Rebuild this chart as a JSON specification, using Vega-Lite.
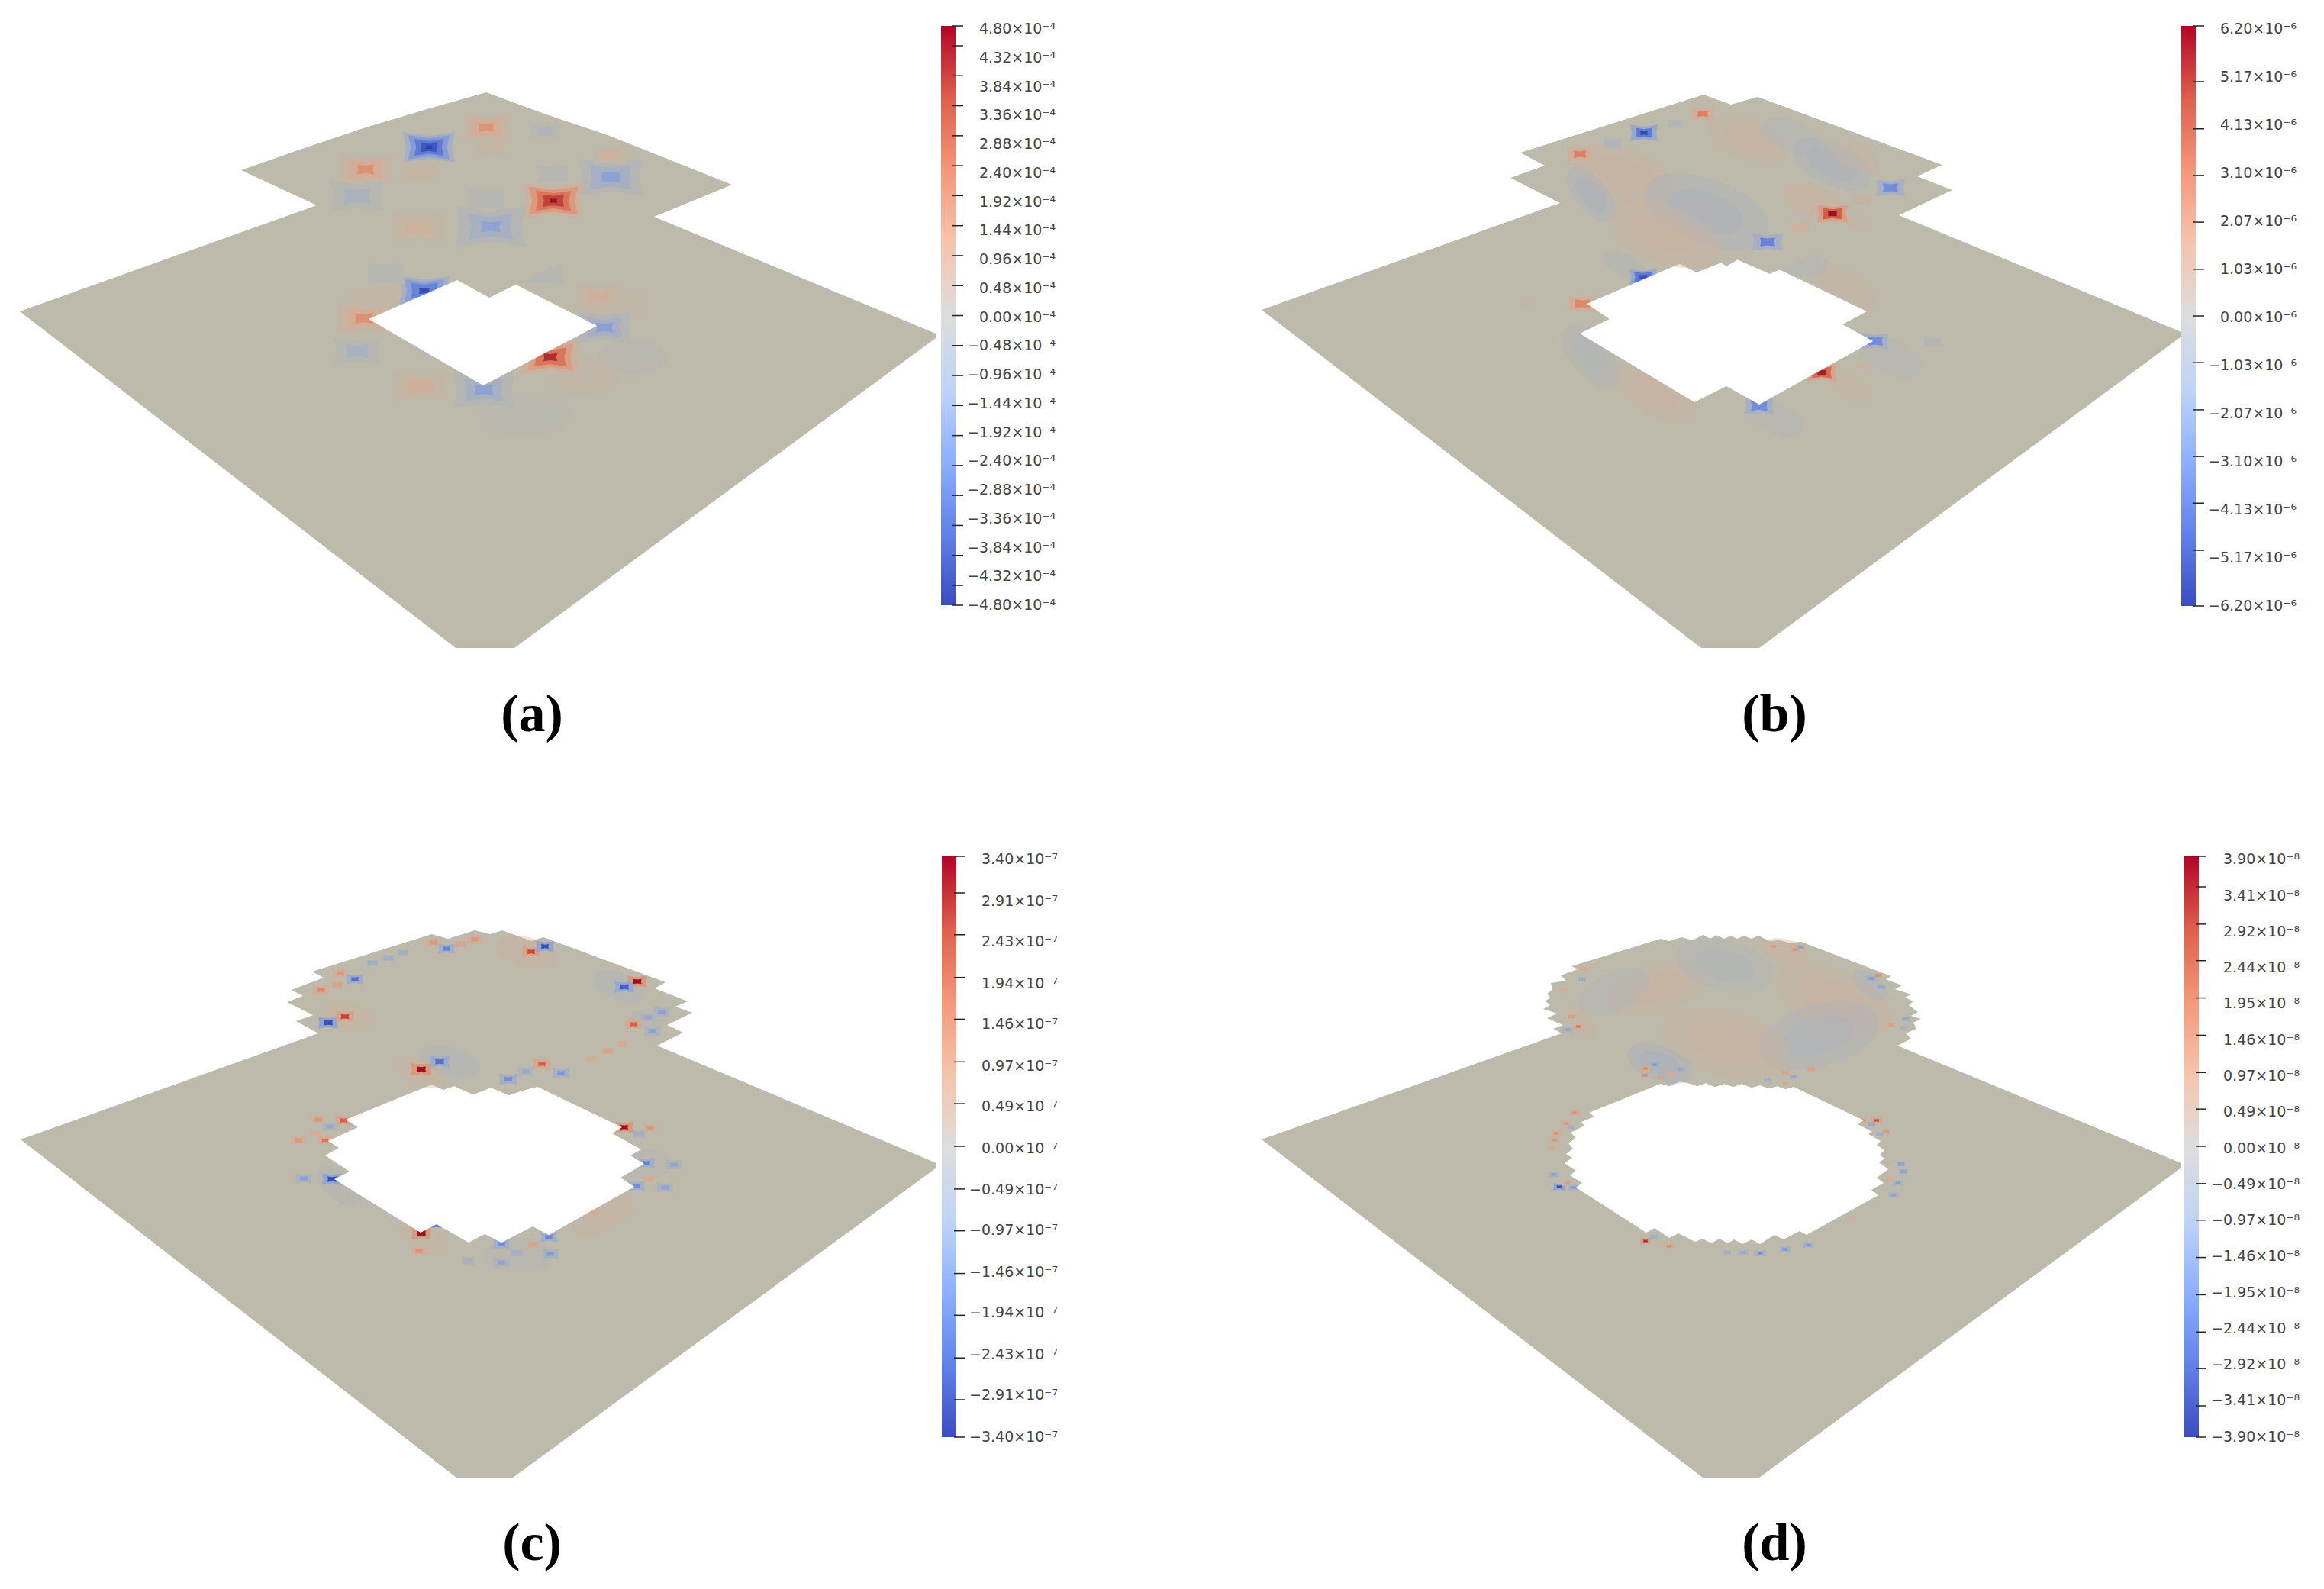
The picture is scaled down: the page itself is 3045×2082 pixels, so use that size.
{
"$schema":"https://vega.github.io/schema/vega-lite/v6.json",
"width":3045,"height":2082,
"autosize":{"type":"fit","contains":"padding"},
"padding":0,
"background":"#ffffff",
"config":{"view":{"stroke":null}},
"datasets":{
"platesLower":[
{"type":"Feature","properties":{"panel":"a","kind":"plate"},"geometry":{"type":"Polygon","coordinates":[[[26,408],[415,269],[640,250],[857,284],[1226,437],[1226,443],[674,849],[597,849],[26,408]]]}},
{"type":"Feature","properties":{"panel":"b","kind":"plate"},"geometry":{"type":"Polygon","coordinates":[[[1653,406],[2044,266],[2270,250],[2488,282],[2858,435],[2858,441],[2305,849],[2229,849],[1653,406]]]}},
{"type":"Feature","properties":{"panel":"c","kind":"plate"},"geometry":{"type":"Polygon","coordinates":[[[27,1493],[417,1354],[640,1350],[861,1370],[1227,1524],[1227,1530],[672,1936],[598,1936],[27,1493]]]}},
{"type":"Feature","properties":{"panel":"d","kind":"plate"},"geometry":{"type":"Polygon","coordinates":[[[1653,1493],[2046,1354],[2270,1350],[2486,1370],[2858,1524],[2858,1530],[2305,1936],[2231,1936],[1653,1493]]]}}
],
"platesUpper":[
{"type":"Feature","properties":{"panel":"a","kind":"hole"},"geometry":{"type":"Polygon","coordinates":[[[483,418],[599,367],[641,340],[676,373],[782,427],[633,505],[483,418]]]}},
{"type":"Feature","properties":{"panel":"a","kind":"plate"},"geometry":{"type":"Polygon","coordinates":[[[316,223],[390,197],[473,169],[556,144],[637,121],[713,149],[796,177],[879,210],[959,242],[857,284],[641,390],[599,367],[415,269],[316,223]]]}},
{"type":"Feature","properties":{"panel":"b","kind":"hole"},"geometry":{"type":"Polygon","coordinates":[[[2079,398],[2200,346],[2240,333],[2262,349],[2289,333],[2333,354],[2446,408],[2414,425],[2454,447],[2305,530],[2262,506],[2220,527],[2070,437],[2109,418],[2079,398]]]}},
{"type":"Feature","properties":{"panel":"b","kind":"plate"},"geometry":{"type":"Polygon","coordinates":[[[2232,124],[2268,137],[2303,127],[2545,216],[2512,231],[2558,249],[2488,282],[2319,359],[2271,338],[2223,357],[2044,266],[1979,233],[2024,217],[1992,200],[2232,124]]]}},
{"type":"Feature","properties":{"panel":"c","kind":"hole"},"geometry":{"type":"Polygon","coordinates":[[[566,1421],[581,1428],[595,1423],[620,1434],[643,1425],[667,1435],[687,1428],[704,1424],[815,1477],[802,1485],[840,1506],[826,1514],[844,1525],[813,1543],[831,1555],[719,1618],[698,1607],[657,1628],[635,1617],[614,1628],[572,1604],[551,1615],[438,1545],[458,1535],[426,1514],[444,1504],[430,1495],[469,1477],[453,1467],[566,1421]]]}},
{"type":"Feature","properties":{"panel":"c","kind":"plate"},"geometry":{"type":"Polygon","coordinates":[[[409,1273],[566,1224],[587,1230],[622,1219],[642,1224],[658,1219],[696,1233],[712,1228],[872,1287],[858,1295],[901,1312],[885,1319],[907,1327],[874,1343],[895,1353],[861,1370],[704,1424],[687,1428],[667,1435],[643,1425],[620,1434],[595,1423],[581,1428],[566,1421],[417,1354],[388,1338],[410,1330],[376,1313],[397,1305],[382,1297],[424,1281],[409,1273]]]}},
{"type":"Feature","properties":{"panel":"d","kind":"hole"},"geometry":{"type":"Polygon","coordinates":[[[2176,1420],[2187,1423],[2201,1417],[2212,1419],[2224,1423],[2235,1419],[2247,1424],[2259,1420],[2271,1424],[2282,1420],[2295,1425],[2306,1422],[2318,1426],[2329,1423],[2339,1427],[2350,1424],[2442,1468],[2434,1473],[2453,1483],[2448,1486],[2464,1495],[2459,1500],[2469,1507],[2463,1513],[2469,1518],[2462,1523],[2474,1532],[2459,1543],[2468,1550],[2452,1559],[2461,1566],[2367,1618],[2358,1613],[2337,1624],[2325,1618],[2306,1630],[2295,1624],[2283,1630],[2272,1624],[2264,1629],[2253,1623],[2242,1629],[2231,1623],[2221,1627],[2199,1616],[2187,1622],[2168,1609],[2157,1615],[2065,1556],[2073,1550],[2057,1540],[2065,1534],[2050,1524],[2060,1517],[2052,1512],[2061,1505],[2055,1498],[2065,1491],[2058,1484],[2076,1475],[2072,1470],[2089,1463],[2082,1458],[2176,1420]]]}},
{"type":"Feature","properties":{"panel":"d","kind":"plate"},"geometry":{"type":"Polygon","coordinates":[[[2059,1266],[2176,1230],[2187,1233],[2203,1228],[2218,1232],[2231,1225],[2241,1230],[2249,1225],[2259,1230],[2268,1226],[2276,1230],[2285,1226],[2295,1230],[2304,1226],[2319,1233],[2331,1232],[2344,1235],[2360,1234],[2478,1279],[2471,1283],[2492,1291],[2483,1296],[2504,1303],[2496,1307],[2507,1312],[2501,1317],[2513,1326],[2504,1331],[2517,1335],[2507,1340],[2511,1348],[2497,1354],[2504,1361],[2486,1370],[2350,1424],[2339,1427],[2329,1423],[2318,1426],[2306,1422],[2295,1425],[2282,1420],[2271,1424],[2259,1420],[2247,1424],[2235,1419],[2224,1423],[2212,1419],[2201,1417],[2187,1423],[2176,1420],[2046,1354],[2035,1348],[2048,1343],[2027,1334],[2040,1328],[2022,1322],[2031,1317],[2025,1312],[2031,1307],[2027,1302],[2034,1297],[2032,1288],[2052,1285],[2045,1278],[2067,1270],[2059,1266]]]}}
],
"softLower":[
{"x":2084,"y":467,"v":-0.14,"w":100,"tilt":50},{"x":2084,"y":467,"v":-0.14,"w":60,"tilt":50},
{"x":2169,"y":513,"v":0.14,"w":120,"tilt":30},{"x":2169,"y":513,"v":0.14,"w":70,"tilt":30},
{"x":2419,"y":377,"v":0.12,"w":90,"tilt":35},{"x":2419,"y":503,"v":0.14,"w":70,"tilt":35},
{"x":2129,"y":348,"v":-0.14,"w":60,"tilt":25},{"x":2477,"y":467,"v":-0.12,"w":90,"tilt":25},
{"x":2365,"y":348,"v":-0.12,"w":60,"tilt":0},{"x":2325,"y":547,"v":-0.12,"w":80,"tilt":25},
{"x":500,"y":395,"v":0.1,"w":90,"tilt":0},{"x":829,"y":468,"v":-0.08,"w":90,"tilt":0},
{"x":763,"y":493,"v":0.08,"w":100,"tilt":0},{"x":688,"y":544,"v":-0.06,"w":120,"tilt":0},
{"x":805,"y":400,"v":0.08,"w":90,"tilt":0},
{"x":445,"y":1555,"v":-0.14,"w":70,"tilt":40},{"x":555,"y":1620,"v":0.14,"w":70,"tilt":30},
{"x":840,"y":1525,"v":-0.1,"w":80,"tilt":0},{"x":790,"y":1590,"v":0.12,"w":90,"tilt":-30},
{"x":680,"y":1645,"v":-0.08,"w":90,"tilt":0}
],
"softUpper":[
{"x":2290,"y":182,"v":0.14,"w":110,"tilt":22},{"x":2290,"y":182,"v":0.14,"w":70,"tilt":22},
{"x":2345,"y":178,"v":-0.12,"w":80,"tilt":20},
{"x":2129,"y":230,"v":0.15,"w":140,"tilt":22},{"x":2129,"y":230,"v":0.15,"w":85,"tilt":22},
{"x":2085,"y":255,"v":-0.16,"w":85,"tilt":50},{"x":2085,"y":255,"v":-0.16,"w":55,"tilt":50},
{"x":2236,"y":277,"v":-0.16,"w":170,"tilt":20},{"x":2236,"y":277,"v":-0.16,"w":100,"tilt":20},
{"x":2401,"y":215,"v":-0.16,"w":110,"tilt":25},{"x":2401,"y":215,"v":-0.16,"w":70,"tilt":25},
{"x":2430,"y":205,"v":0.12,"w":70,"tilt":25},
{"x":2182,"y":307,"v":0.15,"w":150,"tilt":20},{"x":2182,"y":307,"v":0.15,"w":90,"tilt":20},
{"x":2374,"y":263,"v":0.2,"w":80,"tilt":20},{"x":2430,"y":288,"v":0.14,"w":40,"tilt":30},
{"x":458,"y":1332,"v":0.15,"w":70,"tilt":20},
{"x":812,"y":1292,"v":-0.18,"w":70,"tilt":25},{"x":690,"y":1248,"v":0.16,"w":80,"tilt":15},
{"x":590,"y":1392,"v":-0.18,"w":80,"tilt":15},{"x":552,"y":1405,"v":0.15,"w":70,"tilt":20},
{"x":850,"y":1335,"v":-0.14,"w":50,"tilt":0},
{"x":2170,"y":1295,"v":0.12,"w":130,"tilt":-15},{"x":2170,"y":1295,"v":0.12,"w":80,"tilt":-15},
{"x":2260,"y":1265,"v":-0.12,"w":130,"tilt":15},{"x":2260,"y":1265,"v":-0.12,"w":80,"tilt":15},
{"x":2402,"y":1310,"v":0.14,"w":160,"tilt":25},{"x":2402,"y":1310,"v":0.14,"w":95,"tilt":25},
{"x":2383,"y":1357,"v":-0.15,"w":160,"tilt":-15},{"x":2383,"y":1357,"v":-0.15,"w":95,"tilt":-15},
{"x":2260,"y":1367,"v":0.13,"w":170,"tilt":15},{"x":2260,"y":1367,"v":0.13,"w":100,"tilt":15},
{"x":2115,"y":1300,"v":-0.13,"w":100,"tilt":-25},{"x":2175,"y":1393,"v":-0.2,"w":90,"tilt":20},
{"x":2175,"y":1393,"v":-0.2,"w":55,"tilt":20},{"x":2072,"y":1338,"v":0.2,"w":50,"tilt":50},
{"x":2450,"y":1290,"v":-0.18,"w":55,"tilt":40},{"x":2340,"y":1246,"v":0.18,"w":60,"tilt":15}
],
"spotsLower":[
{"x":556,"y":381,"v":-0.2,"w":66},{"x":556,"y":381,"v":-0.4,"w":52},{"x":556,"y":381,"v":-0.6,"w":36},{"x":556,"y":381,"v":-0.9,"w":14},
{"x":477,"y":417,"v":0.08,"w":72},{"x":477,"y":417,"v":0.22,"w":48},{"x":477,"y":417,"v":0.45,"w":24},
{"x":468,"y":460,"v":-0.05,"w":62},{"x":468,"y":460,"v":-0.17,"w":30},
{"x":550,"y":506,"v":0.06,"w":70},{"x":550,"y":506,"v":0.17,"w":38},
{"x":634,"y":511,"v":-0.07,"w":80},{"x":634,"y":511,"v":-0.2,"w":50},{"x":634,"y":511,"v":-0.38,"w":24},
{"x":721,"y":468,"v":0.15,"w":78},{"x":721,"y":468,"v":0.35,"w":60},{"x":721,"y":468,"v":0.6,"w":42},{"x":721,"y":468,"v":0.9,"w":18},
{"x":792,"y":429,"v":-0.07,"w":72},{"x":792,"y":429,"v":-0.2,"w":46},{"x":792,"y":429,"v":-0.4,"w":22},
{"x":784,"y":389,"v":0.06,"w":60},{"x":784,"y":389,"v":0.17,"w":30},
{"x":713,"y":358,"v":-0.06,"w":50},{"x":506,"y":358,"v":-0.05,"w":50},
{"x":2153,"y":363,"v":-0.3,"w":36},{"x":2153,"y":363,"v":-0.65,"w":24},{"x":2153,"y":363,"v":-0.9,"w":10},
{"x":2073,"y":398,"v":0.2,"w":36},{"x":2073,"y":398,"v":0.5,"w":20},
{"x":2387,"y":488,"v":0.3,"w":40},{"x":2387,"y":488,"v":0.65,"w":26},{"x":2387,"y":488,"v":0.95,"w":12},
{"x":2457,"y":447,"v":-0.2,"w":36},{"x":2457,"y":447,"v":-0.55,"w":20},
{"x":2305,"y":532,"v":-0.2,"w":38},{"x":2305,"y":532,"v":-0.55,"w":22},
{"x":2003,"y":396,"v":0.08,"w":20},{"x":2532,"y":448,"v":-0.08,"w":22},{"x":2441,"y":480,"v":0.08,"w":20},
{"x":450,"y":1468,"v":0.3,"w":22},{"x":450,"y":1468,"v":0.7,"w":10},
{"x":417,"y":1467,"v":0.16,"w":20},{"x":417,"y":1467,"v":0.4,"w":10},
{"x":432,"y":1476,"v":-0.12,"w":20},{"x":432,"y":1476,"v":-0.3,"w":9},
{"x":413,"y":1485,"v":0.2,"w":16},{"x":391,"y":1494,"v":0.16,"w":20},{"x":391,"y":1494,"v":0.4,"w":10},
{"x":426,"y":1494,"v":0.25,"w":20},{"x":426,"y":1494,"v":0.6,"w":9},
{"x":435,"y":1545,"v":-0.35,"w":26},{"x":435,"y":1545,"v":-0.9,"w":12},
{"x":398,"y":1544,"v":-0.16,"w":22},{"x":398,"y":1544,"v":-0.4,"w":10},
{"x":818,"y":1477,"v":0.4,"w":24},{"x":818,"y":1477,"v":1,"w":10},
{"x":852,"y":1478,"v":0.16,"w":20},{"x":852,"y":1478,"v":0.4,"w":9},
{"x":837,"y":1486,"v":-0.2,"w":16},
{"x":847,"y":1524,"v":-0.25,"w":22},{"x":847,"y":1524,"v":-0.6,"w":10},
{"x":883,"y":1526,"v":-0.14,"w":22},{"x":883,"y":1526,"v":-0.35,"w":10},
{"x":834,"y":1554,"v":-0.22,"w":22},{"x":834,"y":1554,"v":-0.55,"w":10},
{"x":871,"y":1556,"v":-0.16,"w":22},{"x":871,"y":1556,"v":-0.4,"w":10},
{"x":851,"y":1545,"v":0.25,"w":14},
{"x":552,"y":1616,"v":0.4,"w":26},{"x":552,"y":1616,"v":1,"w":12},
{"x":549,"y":1639,"v":0.18,"w":22},{"x":549,"y":1639,"v":0.45,"w":10},
{"x":572,"y":1605,"v":-0.6,"w":12},
{"x":657,"y":1630,"v":-0.22,"w":22},{"x":657,"y":1630,"v":-0.55,"w":10},
{"x":719,"y":1621,"v":-0.25,"w":22},{"x":719,"y":1621,"v":-0.6,"w":10},
{"x":699,"y":1631,"v":0.3,"w":14},
{"x":721,"y":1643,"v":-0.18,"w":22},{"x":721,"y":1643,"v":-0.45,"w":10},
{"x":657,"y":1654,"v":-0.14,"w":22},{"x":657,"y":1654,"v":-0.35,"w":10},
{"x":677,"y":1642,"v":-0.2,"w":16},{"x":614,"y":1652,"v":-0.15,"w":18},
{"x":779,"y":1587,"v":0.25,"w":14},{"x":800,"y":1597,"v":0.15,"w":16},{"x":819,"y":1587,"v":0.12,"w":16},
{"x":2156,"y":1626,"v":0.4,"w":14},{"x":2156,"y":1626,"v":0.9,"w":6},
{"x":2187,"y":1633,"v":0.22,"w":14},{"x":2187,"y":1633,"v":0.55,"w":6},
{"x":2167,"y":1621,"v":-0.25,"w":12},
{"x":2339,"y":1637,"v":-0.22,"w":14},{"x":2339,"y":1637,"v":-0.55,"w":6},
{"x":2306,"y":1642,"v":-0.22,"w":14},{"x":2306,"y":1642,"v":-0.55,"w":6},
{"x":2284,"y":1641,"v":-0.16,"w":14},{"x":2284,"y":1641,"v":-0.4,"w":6},
{"x":2263,"y":1641,"v":-0.25,"w":10},
{"x":2369,"y":1631,"v":-0.2,"w":14},{"x":2369,"y":1631,"v":-0.5,"w":6},
{"x":2459,"y":1468,"v":0.32,"w":14},{"x":2459,"y":1468,"v":0.8,"w":6},
{"x":2442,"y":1468,"v":0.2,"w":12},{"x":2442,"y":1468,"v":0.5,"w":5},
{"x":2452,"y":1473,"v":-0.3,"w":10},{"x":2471,"y":1483,"v":0.4,"w":9},{"x":2463,"y":1486,"v":-0.2,"w":10},
{"x":2491,"y":1525,"v":-0.35,"w":10},{"x":2494,"y":1535,"v":-0.35,"w":10},
{"x":2487,"y":1550,"v":-0.18,"w":14},{"x":2487,"y":1550,"v":-0.45,"w":6},
{"x":2481,"y":1566,"v":-0.16,"w":14},{"x":2481,"y":1566,"v":-0.4,"w":6},
{"x":2476,"y":1545,"v":0.25,"w":10},
{"x":2063,"y":1458,"v":0.18,"w":14},{"x":2063,"y":1458,"v":0.45,"w":6},
{"x":2052,"y":1472,"v":0.18,"w":14},{"x":2052,"y":1472,"v":0.45,"w":6},
{"x":2059,"y":1477,"v":-0.2,"w":10},
{"x":2039,"y":1485,"v":0.2,"w":14},{"x":2039,"y":1485,"v":0.5,"w":6},
{"x":2037,"y":1494,"v":0.18,"w":14},{"x":2037,"y":1494,"v":0.45,"w":6},
{"x":2034,"y":1504,"v":0.25,"w":10},
{"x":2036,"y":1539,"v":-0.18,"w":14},{"x":2036,"y":1539,"v":-0.45,"w":6},
{"x":2054,"y":1550,"v":0.14,"w":14},{"x":2054,"y":1550,"v":0.35,"w":6},
{"x":2043,"y":1555,"v":-0.36,"w":16},{"x":2043,"y":1555,"v":-0.9,"w":7},
{"x":2062,"y":1556,"v":-0.2,"w":14},{"x":2062,"y":1556,"v":-0.5,"w":6},
{"x":2427,"y":1597,"v":0.12,"w":14}
],
"spotsUpper":[
{"x":562,"y":193,"v":-0.2,"w":68},{"x":562,"y":193,"v":-0.45,"w":54},{"x":562,"y":193,"v":-0.65,"w":38},{"x":562,"y":193,"v":-0.85,"w":22},{"x":562,"y":193,"v":-1,"w":8},
{"x":725,"y":263,"v":0.15,"w":78},{"x":725,"y":263,"v":0.38,"w":64},{"x":725,"y":263,"v":0.6,"w":46},{"x":725,"y":263,"v":0.82,"w":28},{"x":725,"y":263,"v":1,"w":10},
{"x":637,"y":167,"v":0.08,"w":64},{"x":637,"y":167,"v":0.22,"w":42},{"x":637,"y":167,"v":0.42,"w":20},
{"x":479,"y":222,"v":0.08,"w":70},{"x":479,"y":222,"v":0.22,"w":46},{"x":479,"y":222,"v":0.45,"w":22},
{"x":800,"y":232,"v":-0.07,"w":84},{"x":800,"y":232,"v":-0.2,"w":54},{"x":800,"y":232,"v":-0.38,"w":26},
{"x":800,"y":203,"v":0.05,"w":42},{"x":800,"y":203,"v":0.15,"w":24},
{"x":713,"y":172,"v":-0.04,"w":36},{"x":713,"y":172,"v":-0.12,"w":20},
{"x":468,"y":257,"v":-0.05,"w":70},{"x":468,"y":257,"v":-0.15,"w":36},
{"x":643,"y":297,"v":-0.07,"w":92},{"x":643,"y":297,"v":-0.2,"w":58},{"x":643,"y":297,"v":-0.36,"w":26},
{"x":547,"y":298,"v":0.05,"w":72},{"x":547,"y":298,"v":0.15,"w":38},
{"x":643,"y":193,"v":0.06,"w":40},{"x":725,"y":228,"v":-0.06,"w":40},{"x":637,"y":261,"v":-0.06,"w":50},{"x":551,"y":225,"v":0.06,"w":50},
{"x":2231,"y":149,"v":0.2,"w":30},{"x":2231,"y":149,"v":0.55,"w":14},
{"x":2154,"y":174,"v":-0.3,"w":36},{"x":2154,"y":174,"v":-0.65,"w":22},{"x":2154,"y":174,"v":-0.95,"w":10},
{"x":2070,"y":202,"v":0.2,"w":34},{"x":2070,"y":202,"v":0.55,"w":16},
{"x":2401,"y":280,"v":0.35,"w":40},{"x":2401,"y":280,"v":0.7,"w":26},{"x":2401,"y":280,"v":1,"w":12},
{"x":2477,"y":246,"v":-0.2,"w":38},{"x":2477,"y":246,"v":-0.55,"w":20},
{"x":2316,"y":317,"v":-0.2,"w":40},{"x":2316,"y":317,"v":-0.6,"w":20},
{"x":2358,"y":298,"v":0.14,"w":24},{"x":2440,"y":262,"v":0.1,"w":22},{"x":2195,"y":162,"v":-0.1,"w":20},{"x":2113,"y":188,"v":-0.1,"w":24},
{"x":568,"y":1235,"v":0.16,"w":22},{"x":568,"y":1235,"v":0.4,"w":10},
{"x":622,"y":1231,"v":0.16,"w":22},{"x":622,"y":1231,"v":0.4,"w":10},
{"x":603,"y":1237,"v":0.3,"w":14},
{"x":585,"y":1243,"v":-0.25,"w":22},{"x":585,"y":1243,"v":-0.6,"w":10},
{"x":696,"y":1247,"v":0.32,"w":24},{"x":696,"y":1247,"v":0.8,"w":10},
{"x":714,"y":1240,"v":-0.36,"w":24},{"x":714,"y":1240,"v":-0.9,"w":10},
{"x":446,"y":1275,"v":0.16,"w":22},{"x":446,"y":1275,"v":0.4,"w":10},
{"x":442,"y":1290,"v":0.3,"w":14},
{"x":465,"y":1283,"v":-0.28,"w":22},{"x":465,"y":1283,"v":-0.7,"w":10},
{"x":421,"y":1297,"v":0.2,"w":22},{"x":421,"y":1297,"v":0.5,"w":10},
{"x":452,"y":1332,"v":0.32,"w":24},{"x":452,"y":1332,"v":0.8,"w":11},
{"x":430,"y":1340,"v":-0.36,"w":26},{"x":430,"y":1340,"v":-0.9,"w":12},
{"x":835,"y":1286,"v":0.4,"w":26},{"x":835,"y":1286,"v":1,"w":11},
{"x":818,"y":1293,"v":-0.32,"w":26},{"x":818,"y":1293,"v":-0.8,"w":12},
{"x":867,"y":1326,"v":-0.16,"w":22},{"x":867,"y":1326,"v":-0.4,"w":10},
{"x":849,"y":1333,"v":-0.12,"w":22},{"x":849,"y":1333,"v":-0.3,"w":10},
{"x":830,"y":1342,"v":0.28,"w":22},{"x":830,"y":1342,"v":0.7,"w":10},
{"x":855,"y":1351,"v":-0.16,"w":22},{"x":855,"y":1351,"v":-0.4,"w":10},
{"x":816,"y":1368,"v":0.25,"w":14},{"x":796,"y":1377,"v":0.3,"w":14},{"x":775,"y":1387,"v":0.2,"w":14},
{"x":710,"y":1394,"v":0.28,"w":24},{"x":710,"y":1394,"v":0.7,"w":10},
{"x":735,"y":1406,"v":-0.2,"w":22},{"x":735,"y":1406,"v":-0.5,"w":10},
{"x":689,"y":1404,"v":-0.12,"w":22},{"x":689,"y":1404,"v":-0.3,"w":10},
{"x":666,"y":1414,"v":-0.22,"w":24},{"x":666,"y":1414,"v":-0.55,"w":11},
{"x":576,"y":1391,"v":-0.28,"w":26},{"x":576,"y":1391,"v":-0.7,"w":12},
{"x":552,"y":1401,"v":0.4,"w":28},{"x":552,"y":1401,"v":1,"w":12},
{"x":509,"y":1255,"v":-0.25,"w":14},{"x":488,"y":1262,"v":-0.25,"w":14},{"x":528,"y":1248,"v":-0.2,"w":14},
{"x":2068,"y":1345,"v":0.24,"w":14},{"x":2068,"y":1345,"v":0.6,"w":6},
{"x":2059,"y":1332,"v":0.35,"w":9},{"x":2054,"y":1349,"v":-0.16,"w":14},{"x":2054,"y":1349,"v":-0.4,"w":6},
{"x":2452,"y":1282,"v":-0.2,"w":14},{"x":2452,"y":1282,"v":-0.5,"w":6},
{"x":2461,"y":1278,"v":0.45,"w":8},{"x":2465,"y":1293,"v":-0.3,"w":10},
{"x":2352,"y":1244,"v":0.2,"w":14},{"x":2352,"y":1244,"v":0.5,"w":6},
{"x":2323,"y":1240,"v":0.35,"w":8},{"x":2360,"y":1241,"v":-0.4,"w":8},
{"x":2168,"y":1395,"v":-0.2,"w":14},{"x":2168,"y":1395,"v":-0.5,"w":6},
{"x":2202,"y":1401,"v":-0.14,"w":14},{"x":2202,"y":1401,"v":-0.35,"w":6},
{"x":2156,"y":1400,"v":0.22,"w":14},{"x":2156,"y":1400,"v":0.55,"w":6},
{"x":2155,"y":1409,"v":0.5,"w":7},{"x":2339,"y":1405,"v":0.3,"w":10},{"x":2373,"y":1401,"v":0.3,"w":10},
{"x":2075,"y":1269,"v":0.25,"w":10},{"x":2073,"y":1283,"v":-0.3,"w":10},{"x":2048,"y":1298,"v":0.2,"w":10},
{"x":2497,"y":1335,"v":-0.3,"w":10},{"x":2478,"y":1343,"v":0.3,"w":10},{"x":2494,"y":1347,"v":-0.2,"w":10},
{"x":2316,"y":1415,"v":-0.25,"w":10},{"x":2350,"y":1411,"v":-0.3,"w":9},{"x":2339,"y":1420,"v":0.3,"w":7},
{"x":2176,"y":1412,"v":0.35,"w":8},{"x":2189,"y":1407,"v":0.25,"w":9}
],
"bars":[
{"panel":"a","hi":4.8,"lo":-4.8},{"panel":"b","hi":6.2,"lo":-6.2},{"panel":"c","hi":3.4,"lo":-3.4},{"panel":"d","hi":3.9,"lo":-3.9}
],
"ticks":[
{"panel":"a","value":4.8,"label":"4.80×10⁻⁴"},{"panel":"a","value":4.32,"label":"4.32×10⁻⁴"},{"panel":"a","value":3.84,"label":"3.84×10⁻⁴"},{"panel":"a","value":3.36,"label":"3.36×10⁻⁴"},{"panel":"a","value":2.88,"label":"2.88×10⁻⁴"},{"panel":"a","value":2.4,"label":"2.40×10⁻⁴"},{"panel":"a","value":1.92,"label":"1.92×10⁻⁴"},{"panel":"a","value":1.44,"label":"1.44×10⁻⁴"},{"panel":"a","value":0.96,"label":"0.96×10⁻⁴"},{"panel":"a","value":0.48,"label":"0.48×10⁻⁴"},{"panel":"a","value":0,"label":"0.00×10⁻⁴"},{"panel":"a","value":-0.48,"label":"−0.48×10⁻⁴"},{"panel":"a","value":-0.96,"label":"−0.96×10⁻⁴"},{"panel":"a","value":-1.44,"label":"−1.44×10⁻⁴"},{"panel":"a","value":-1.92,"label":"−1.92×10⁻⁴"},{"panel":"a","value":-2.4,"label":"−2.40×10⁻⁴"},{"panel":"a","value":-2.88,"label":"−2.88×10⁻⁴"},{"panel":"a","value":-3.36,"label":"−3.36×10⁻⁴"},{"panel":"a","value":-3.84,"label":"−3.84×10⁻⁴"},{"panel":"a","value":-4.32,"label":"−4.32×10⁻⁴"},{"panel":"a","value":-4.8,"label":"−4.80×10⁻⁴"},
{"panel":"b","value":6.2,"label":"6.20×10⁻⁶"},{"panel":"b","value":5.17,"label":"5.17×10⁻⁶"},{"panel":"b","value":4.13,"label":"4.13×10⁻⁶"},{"panel":"b","value":3.1,"label":"3.10×10⁻⁶"},{"panel":"b","value":2.07,"label":"2.07×10⁻⁶"},{"panel":"b","value":1.03,"label":"1.03×10⁻⁶"},{"panel":"b","value":0,"label":"0.00×10⁻⁶"},{"panel":"b","value":-1.03,"label":"−1.03×10⁻⁶"},{"panel":"b","value":-2.07,"label":"−2.07×10⁻⁶"},{"panel":"b","value":-3.1,"label":"−3.10×10⁻⁶"},{"panel":"b","value":-4.13,"label":"−4.13×10⁻⁶"},{"panel":"b","value":-5.17,"label":"−5.17×10⁻⁶"},{"panel":"b","value":-6.2,"label":"−6.20×10⁻⁶"},
{"panel":"c","value":3.4,"label":"3.40×10⁻⁷"},{"panel":"c","value":2.91,"label":"2.91×10⁻⁷"},{"panel":"c","value":2.43,"label":"2.43×10⁻⁷"},{"panel":"c","value":1.94,"label":"1.94×10⁻⁷"},{"panel":"c","value":1.46,"label":"1.46×10⁻⁷"},{"panel":"c","value":0.97,"label":"0.97×10⁻⁷"},{"panel":"c","value":0.49,"label":"0.49×10⁻⁷"},{"panel":"c","value":0,"label":"0.00×10⁻⁷"},{"panel":"c","value":-0.49,"label":"−0.49×10⁻⁷"},{"panel":"c","value":-0.97,"label":"−0.97×10⁻⁷"},{"panel":"c","value":-1.46,"label":"−1.46×10⁻⁷"},{"panel":"c","value":-1.94,"label":"−1.94×10⁻⁷"},{"panel":"c","value":-2.43,"label":"−2.43×10⁻⁷"},{"panel":"c","value":-2.91,"label":"−2.91×10⁻⁷"},{"panel":"c","value":-3.4,"label":"−3.40×10⁻⁷"},
{"panel":"d","value":3.9,"label":"3.90×10⁻⁸"},{"panel":"d","value":3.41,"label":"3.41×10⁻⁸"},{"panel":"d","value":2.92,"label":"2.92×10⁻⁸"},{"panel":"d","value":2.44,"label":"2.44×10⁻⁸"},{"panel":"d","value":1.95,"label":"1.95×10⁻⁸"},{"panel":"d","value":1.46,"label":"1.46×10⁻⁸"},{"panel":"d","value":0.97,"label":"0.97×10⁻⁸"},{"panel":"d","value":0.49,"label":"0.49×10⁻⁸"},{"panel":"d","value":0,"label":"0.00×10⁻⁸"},{"panel":"d","value":-0.49,"label":"−0.49×10⁻⁸"},{"panel":"d","value":-0.97,"label":"−0.97×10⁻⁸"},{"panel":"d","value":-1.46,"label":"−1.46×10⁻⁸"},{"panel":"d","value":-1.95,"label":"−1.95×10⁻⁸"},{"panel":"d","value":-2.44,"label":"−2.44×10⁻⁸"},{"panel":"d","value":-2.92,"label":"−2.92×10⁻⁸"},{"panel":"d","value":-3.41,"label":"−3.41×10⁻⁸"},{"panel":"d","value":-3.9,"label":"−3.90×10⁻⁸"}
],
"captions":[
{"x":697,"y":958,"label":"(a)"},{"x":2325,"y":958,"label":"(b)"},{"x":697,"y":2044,"label":"(c)"},{"x":2325,"y":2044,"label":"(d)"}
]
},
"projection":{"type":"identity","scale":1,"translate":[0,0]},
"resolve":{"scale":{"y":"independent","color":"independent","size":"independent","angle":"independent"}},
"layer":[
{"data":{"name":"platesLower"},"mark":{"type":"geoshape","strokeWidth":0},
 "encoding":{"color":{"field":"properties.kind","type":"nominal","scale":{"domain":["plate","hole"],"range":["#bdb9ab","#ffffff"]},"legend":null}}},
{"data":{"name":"softLower"},"mark":{"type":"point","filled":true,"opacity":0.36,"strokeWidth":0,"shape":"M-1,0C-1,-.35,-.5,-.5,0,-.5C.5,-.5,1,-.35,1,0C1,.35,.5,.5,0,.5C-.5,.5,-1,.35,-1,0Z"},
 "encoding":{"x":{"field":"x","type":"quantitative","axis":null,"scale":{"domain":[0,3045],"range":[0,3045]}},"y":{"field":"y","type":"quantitative","axis":null,"scale":{"domain":[0,2082],"range":[0,2082]}},
 "size":{"field":"w","type":"quantitative","legend":null,"scale":{"type":"pow","exponent":2,"domain":[0,250],"range":[0,62500]}},
 "angle":{"field":"tilt","type":"quantitative","legend":null,"scale":{"domain":[-180,180],"range":[-180,180]}},
 "color":{"field":"v","type":"quantitative","legend":null,"scale":{"interpolate":"rgb","domain":[-1,-0.75,-0.5,-0.25,0,0.25,0.5,0.75,1],"range":["#2c3fa8","#4a66cf","#7d97db","#a0aec8","#bdb9ab","#d6ab94","#df8a6c","#cf5540","#9c1023"]}}}},
{"data":{"name":"spotsLower"},"mark":{"type":"point","filled":true,"opacity":1,"strokeWidth":0,"shape":"M-1,-.58L0,-.44L1,-.58L.88,0L1,.58L0,.44L-1,.58L-.88,0Z"},
 "encoding":{"x":{"field":"x","type":"quantitative","axis":null,"scale":{"domain":[0,3045],"range":[0,3045]}},"y":{"field":"y","type":"quantitative","axis":null,"scale":{"domain":[0,2082],"range":[0,2082]}},
 "order":{"field":"w","sort":"descending"},
 "size":{"field":"w","type":"quantitative","legend":null,"scale":{"type":"pow","exponent":2,"domain":[0,250],"range":[0,62500]}},
 "color":{"field":"v","type":"quantitative","legend":null,"scale":{"interpolate":"rgb","domain":[-1,-0.75,-0.5,-0.25,0,0.25,0.5,0.75,1],"range":["#2c3fa8","#4a66cf","#7d97db","#a0aec8","#bdb9ab","#d6ab94","#df8a6c","#cf5540","#9c1023"]}}}},
{"data":{"name":"platesUpper"},"mark":{"type":"geoshape","strokeWidth":0},
 "encoding":{"color":{"field":"properties.kind","type":"nominal","scale":{"domain":["plate","hole"],"range":["#bdb9ab","#ffffff"]},"legend":null}}},
{"data":{"name":"softUpper"},"mark":{"type":"point","filled":true,"opacity":0.36,"strokeWidth":0,"shape":"M-1,0C-1,-.35,-.5,-.5,0,-.5C.5,-.5,1,-.35,1,0C1,.35,.5,.5,0,.5C-.5,.5,-1,.35,-1,0Z"},
 "encoding":{"x":{"field":"x","type":"quantitative","axis":null,"scale":{"domain":[0,3045],"range":[0,3045]}},"y":{"field":"y","type":"quantitative","axis":null,"scale":{"domain":[0,2082],"range":[0,2082]}},
 "size":{"field":"w","type":"quantitative","legend":null,"scale":{"type":"pow","exponent":2,"domain":[0,250],"range":[0,62500]}},
 "angle":{"field":"tilt","type":"quantitative","legend":null,"scale":{"domain":[-180,180],"range":[-180,180]}},
 "color":{"field":"v","type":"quantitative","legend":null,"scale":{"interpolate":"rgb","domain":[-1,-0.75,-0.5,-0.25,0,0.25,0.5,0.75,1],"range":["#2c3fa8","#4a66cf","#7d97db","#a0aec8","#bdb9ab","#d6ab94","#df8a6c","#cf5540","#9c1023"]}}}},
{"data":{"name":"spotsUpper"},"mark":{"type":"point","filled":true,"opacity":1,"strokeWidth":0,"shape":"M-1,-.58L0,-.44L1,-.58L.88,0L1,.58L0,.44L-1,.58L-.88,0Z"},
 "encoding":{"x":{"field":"x","type":"quantitative","axis":null,"scale":{"domain":[0,3045],"range":[0,3045]}},"y":{"field":"y","type":"quantitative","axis":null,"scale":{"domain":[0,2082],"range":[0,2082]}},
 "order":{"field":"w","sort":"descending"},
 "size":{"field":"w","type":"quantitative","legend":null,"scale":{"type":"pow","exponent":2,"domain":[0,250],"range":[0,62500]}},
 "color":{"field":"v","type":"quantitative","legend":null,"scale":{"interpolate":"rgb","domain":[-1,-0.75,-0.5,-0.25,0,0.25,0.5,0.75,1],"range":["#2c3fa8","#4a66cf","#7d97db","#a0aec8","#bdb9ab","#d6ab94","#df8a6c","#cf5540","#9c1023"]}}}},
{"data":{"name":"captions"},"mark":{"type":"text","font":"Liberation Serif","fontWeight":"bold","fontSize":70,"align":"center","baseline":"alphabetic","color":"#000000"},
 "encoding":{"x":{"field":"x","type":"quantitative","axis":null,"scale":{"domain":[0,3045],"range":[0,3045]}},"y":{"field":"y","type":"quantitative","axis":null,"scale":{"domain":[0,2082],"range":[0,2082]}},"text":{"field":"label"}}},
{"layer":[
 {"data":{"name":"bars"},"transform":[{"filter":"datum.panel==='a'"}],"mark":{"type":"rect","color":{"x1":0,"y1":0,"x2":0,"y2":1,"gradient":"linear","stops":[{"offset":0,"color":"#b40426"},{"offset":0.125,"color":"#de604d"},{"offset":0.25,"color":"#f4987a"},{"offset":0.375,"color":"#f5c4ad"},{"offset":0.5,"color":"#dddddd"},{"offset":0.625,"color":"#c0d4f5"},{"offset":0.75,"color":"#8db0fe"},{"offset":0.875,"color":"#6282ea"},{"offset":1,"color":"#3b4cc0"}]}},
  "encoding":{"x":{"datum":1233,"type":"quantitative","axis":null,"scale":{"domain":[0,3045],"range":[0,3045]}},"x2":{"datum":1252},"y":{"field":"hi","type":"quantitative","axis":null,"scale":{"domain":[-4.8,-4.32,4.32,4.8],"range":[793,767,60,34]}},"y2":{"field":"lo"}}},
 {"data":{"name":"ticks"},"transform":[{"filter":"datum.panel==='a'"}],"mark":{"type":"rule","color":"#222222","strokeWidth":1.5},
  "encoding":{"x":{"datum":1248,"type":"quantitative","axis":null,"scale":{"domain":[0,3045],"range":[0,3045]}},"x2":{"datum":1262},"y":{"field":"value","type":"quantitative","axis":null,"scale":{"domain":[-4.8,-4.32,4.32,4.8],"range":[793,767,60,34]}}}}
]},
{"data":{"name":"ticks"},"transform":[{"filter":"datum.panel==='a'"}],"mark":{"type":"text","font":"DejaVu Sans","fontSize":19,"align":"right","baseline":"middle","color":"#444444"},
 "encoding":{"x":{"datum":1383,"type":"quantitative","axis":null,"scale":{"domain":[0,3045],"range":[0,3045]}},"y":{"field":"value","type":"quantitative","axis":null,"scale":{"domain":[-4.8,4.8],"range":[793,38]}},"text":{"field":"label"}}},
{"layer":[
 {"data":{"name":"bars"},"transform":[{"filter":"datum.panel==='b'"}],"mark":{"type":"rect","color":{"x1":0,"y1":0,"x2":0,"y2":1,"gradient":"linear","stops":[{"offset":0,"color":"#b40426"},{"offset":0.125,"color":"#de604d"},{"offset":0.25,"color":"#f4987a"},{"offset":0.375,"color":"#f5c4ad"},{"offset":0.5,"color":"#dddddd"},{"offset":0.625,"color":"#c0d4f5"},{"offset":0.75,"color":"#8db0fe"},{"offset":0.875,"color":"#6282ea"},{"offset":1,"color":"#3b4cc0"}]}},
  "encoding":{"x":{"datum":2858,"type":"quantitative","axis":null,"scale":{"domain":[0,3045],"range":[0,3045]}},"x2":{"datum":2877},"y":{"field":"hi","type":"quantitative","axis":null,"scale":{"domain":[-6.2,-5.17,5.17,6.2],"range":[794,721,107,34]}},"y2":{"field":"lo"}}},
 {"data":{"name":"ticks"},"transform":[{"filter":"datum.panel==='b'"}],"mark":{"type":"rule","color":"#222222","strokeWidth":1.5},
  "encoding":{"x":{"datum":2874,"type":"quantitative","axis":null,"scale":{"domain":[0,3045],"range":[0,3045]}},"x2":{"datum":2888},"y":{"field":"value","type":"quantitative","axis":null,"scale":{"domain":[-6.2,-5.17,5.17,6.2],"range":[794,721,107,34]}}}}
]},
{"data":{"name":"ticks"},"transform":[{"filter":"datum.panel==='b'"}],"mark":{"type":"text","font":"DejaVu Sans","fontSize":19,"align":"right","baseline":"middle","color":"#444444"},
 "encoding":{"x":{"datum":3009,"type":"quantitative","axis":null,"scale":{"domain":[0,3045],"range":[0,3045]}},"y":{"field":"value","type":"quantitative","axis":null,"scale":{"domain":[-6.2,6.2],"range":[794,38]}},"text":{"field":"label"}}},
{"layer":[
 {"data":{"name":"bars"},"transform":[{"filter":"datum.panel==='c'"}],"mark":{"type":"rect","color":{"x1":0,"y1":0,"x2":0,"y2":1,"gradient":"linear","stops":[{"offset":0,"color":"#b40426"},{"offset":0.125,"color":"#de604d"},{"offset":0.25,"color":"#f4987a"},{"offset":0.375,"color":"#f5c4ad"},{"offset":0.5,"color":"#dddddd"},{"offset":0.625,"color":"#c0d4f5"},{"offset":0.75,"color":"#8db0fe"},{"offset":0.875,"color":"#6282ea"},{"offset":1,"color":"#3b4cc0"}]}},
  "encoding":{"x":{"datum":1234,"type":"quantitative","axis":null,"scale":{"domain":[0,3045],"range":[0,3045]}},"x2":{"datum":1253},"y":{"field":"hi","type":"quantitative","axis":null,"scale":{"domain":[-3.4,-2.91,2.91,3.4],"range":[1883,1834,1170,1122]}},"y2":{"field":"lo"}}},
 {"data":{"name":"ticks"},"transform":[{"filter":"datum.panel==='c'"}],"mark":{"type":"rule","color":"#222222","strokeWidth":1.5},
  "encoding":{"x":{"datum":1250,"type":"quantitative","axis":null,"scale":{"domain":[0,3045],"range":[0,3045]}},"x2":{"datum":1264},"y":{"field":"value","type":"quantitative","axis":null,"scale":{"domain":[-3.4,-2.91,2.91,3.4],"range":[1883,1834,1170,1122]}}}}
]},
{"data":{"name":"ticks"},"transform":[{"filter":"datum.panel==='c'"}],"mark":{"type":"text","font":"DejaVu Sans","fontSize":19,"align":"right","baseline":"middle","color":"#444444"},
 "encoding":{"x":{"datum":1386,"type":"quantitative","axis":null,"scale":{"domain":[0,3045],"range":[0,3045]}},"y":{"field":"value","type":"quantitative","axis":null,"scale":{"domain":[-3.4,3.4],"range":[1883,1126]}},"text":{"field":"label"}}},
{"layer":[
 {"data":{"name":"bars"},"transform":[{"filter":"datum.panel==='d'"}],"mark":{"type":"rect","color":{"x1":0,"y1":0,"x2":0,"y2":1,"gradient":"linear","stops":[{"offset":0,"color":"#b40426"},{"offset":0.125,"color":"#de604d"},{"offset":0.25,"color":"#f4987a"},{"offset":0.375,"color":"#f5c4ad"},{"offset":0.5,"color":"#dddddd"},{"offset":0.625,"color":"#c0d4f5"},{"offset":0.75,"color":"#8db0fe"},{"offset":0.875,"color":"#6282ea"},{"offset":1,"color":"#3b4cc0"}]}},
  "encoding":{"x":{"datum":2862,"type":"quantitative","axis":null,"scale":{"domain":[0,3045],"range":[0,3045]}},"x2":{"datum":2881},"y":{"field":"hi","type":"quantitative","axis":null,"scale":{"domain":[-3.9,-3.41,3.41,3.9],"range":[1883,1842,1162,1122]}},"y2":{"field":"lo"}}},
 {"data":{"name":"ticks"},"transform":[{"filter":"datum.panel==='d'"}],"mark":{"type":"rule","color":"#222222","strokeWidth":1.5},
  "encoding":{"x":{"datum":2877,"type":"quantitative","axis":null,"scale":{"domain":[0,3045],"range":[0,3045]}},"x2":{"datum":2891},"y":{"field":"value","type":"quantitative","axis":null,"scale":{"domain":[-3.9,-3.41,3.41,3.9],"range":[1883,1842,1162,1122]}}}}
]},
{"data":{"name":"ticks"},"transform":[{"filter":"datum.panel==='d'"}],"mark":{"type":"text","font":"DejaVu Sans","fontSize":19,"align":"right","baseline":"middle","color":"#444444"},
 "encoding":{"x":{"datum":3013,"type":"quantitative","axis":null,"scale":{"domain":[0,3045],"range":[0,3045]}},"y":{"field":"value","type":"quantitative","axis":null,"scale":{"domain":[-3.9,3.9],"range":[1883,1126]}},"text":{"field":"label"}}}
]
}
